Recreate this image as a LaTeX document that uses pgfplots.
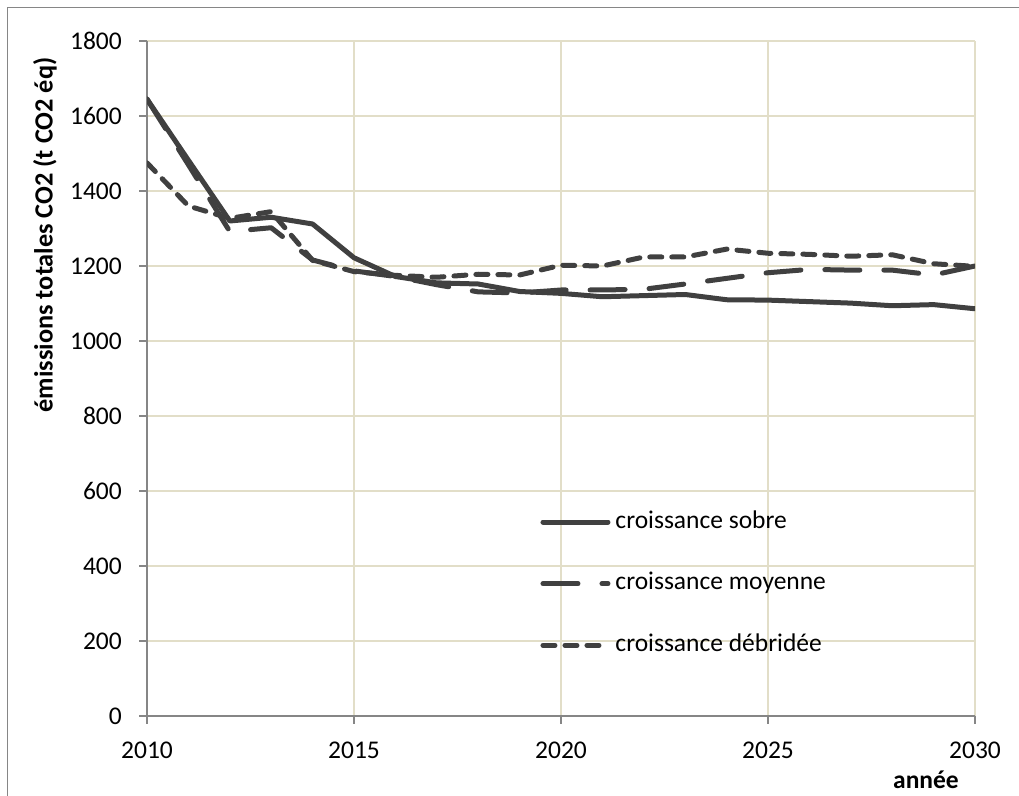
\documentclass[border=0pt]{standalone}
\usepackage{fontspec}
\setmainfont{Carlito}
\usepackage{pgfplots}
\usepackage{pgfplotstable}
\pgfplotsset{compat=1.18}
\definecolor{lineg}{RGB}{64,64,64}
\definecolor{gridc}{RGB}{226,222,200}
\definecolor{axisc}{RGB}{134,134,134}

\pgfplotstableread{
year val
2010 1645
2011 1482
2012 1320
2013 1330
2014 1312
2015 1222
2016 1172
2017 1155
2018 1152
2019 1132
2020 1127
2021 1118
2022 1121
2023 1124
2024 1110
2025 1109
2026 1105
2027 1101
2028 1094
2029 1097
2030 1086
}\sobre

\pgfplotstableread{
year val
2010 1645
2011 1470
2012 1292
2013 1302
2014 1216
2015 1187
2016 1172
2017 1150
2018 1131
2019 1128
2020 1136
2021 1136
2022 1138
2023 1152
2024 1167
2025 1182
2026 1191
2027 1189
2028 1189
2029 1176
2030 1200
}\moyenne

\pgfplotstableread{
year val
2010 1475
2011 1360
2012 1327
2013 1345
2014 1215
2015 1185
2016 1175
2017 1170
2018 1178
2019 1176
2020 1202
2021 1200
2022 1224
2023 1224
2024 1245
2025 1234
2026 1231
2027 1226
2028 1230
2029 1206
2030 1199
}\debridee

\begin{document}
\fontsize{25.5bp}{30bp}\selectfont
\begin{tikzpicture}
\useasboundingbox (0,0) rectangle (1019bp,796bp);
\draw[axisc, line width=1.5bp] (7.5bp,0) -- (7.5bp,788.5bp) -- (1019bp,788.5bp);
\begin{axis}[
  at={(147bp,80bp)}, anchor=south west,
  scale only axis, width=828bp, height=675bp,
  xmin=2010, xmax=2030, ymin=0, ymax=1800,
  xtick={2010,2015,...,2030}, ytick={0,200,...,1800},
  axis x line*=bottom, axis y line*=left,
  axis line style={axisc, line width=2bp, -},
  grid=major, major grid style={gridc, line width=2bp},
  tick align=outside, major tick length=8bp,
  tick style={axisc, line width=2bp},
  /pgf/number format/assume math mode=true,
  /pgf/number format/1000 sep={},
  ticklabel style={font=\fontsize{25.5bp}{30bp}\selectfont, inner sep=0pt},
  xticklabel style={anchor=base, yshift=-34bp},
  yticklabel style={anchor=east, xshift=-17bp},
  ylabel={\bfseries émissions totales CO2 (t CO2 éq)},
  ylabel style={at={(axis description cs:-0.1232,0.7126)}, anchor=center, font=\fontsize{26.3bp}{30bp}\selectfont},
  xlabel={\bfseries année},
  xlabel style={at={(axis description cs:0.9408,-0.1067)}, anchor=base, font=\fontsize{25.5bp}{30bp}\selectfont, inner sep=0pt},
  every axis plot/.append style={line width=5bp, color=lineg, line cap=round, line join=round},
  legend image code/.code={\draw[#1] (0bp,0bp) -- (65bp,0bp);},
  legend cell align=left,
  legend style={draw=none, fill=none, inner sep=0pt, outer sep=0pt,
    at={(axis description cs:0.4752,0.3022)}, anchor=north west,
    font=\fontsize{25.5bp}{30bp}\selectfont,
    nodes={inner sep=0pt, text height=16bp, text depth=4bp},
    row sep=41.7bp,
    /tikz/every odd column/.append style={column sep=5bp}},
]
\addplot[lineg, solid, no markers] table[x=year, y=val] {\sobre};
\addlegendentry{croissance sobre}
\addplot[lineg, no markers, dash pattern=on 35bp off 24bp] table[x=year, y=val] {\moyenne};
\addlegendentry{croissance moyenne}
\addplot[lineg, no markers, dash pattern=on 12bp off 10bp] table[x=year, y=val] {\debridee};
\addlegendentry{croissance débridée}
\end{axis}
\end{tikzpicture}
\end{document}
